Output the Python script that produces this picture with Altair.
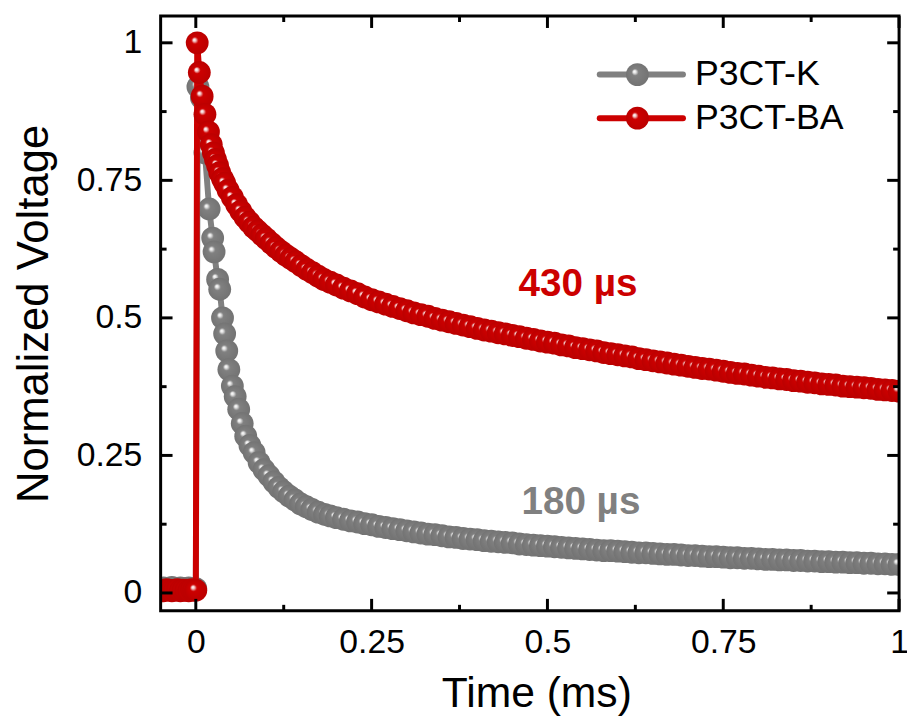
import altair as alt
import pandas as pd

# ---------------- data ----------------
SERIES = ["P3CT-K", "P3CT-BA"]
ANNOTATIONS = ["430 µs", "180 µs"]

PRE_X = [-0.050, -0.046, -0.042, -0.038, -0.034, -0.030, -0.026, -0.022, -0.018,
         -0.014, -0.010, -0.006, -0.003, 0.000]
GRAY_PRE = [0.008, 0.009, 0.007, 0.008, 0.010, 0.008, 0.007, 0.009, 0.008,
            0.008, 0.009, 0.007, 0.008, 0.008]
RED_PRE = [0.005, 0.004, 0.006, 0.005, 0.004, 0.005, 0.006, 0.004, 0.005,
           0.005, 0.004, 0.006, 0.005, 0.005]

GRAY_EARLY_X = [0.003, 0.008, 0.013, 0.019, 0.024, 0.026, 0.031, 0.034, 0.038, 0.041,
                0.044, 0.047, 0.052, 0.056, 0.061, 0.066, 0.071, 0.077, 0.083, 0.090,
                0.097, 0.104, 0.111, 0.118, 0.125, 0.133, 0.141, 0.149, 0.157, 0.165,
                0.174, 0.183, 0.191]
GRAY_EARLY_Y = [0.920, 0.900, 0.800, 0.698, 0.645, 0.620, 0.570, 0.552, 0.500, 0.471,
                0.440, 0.406, 0.376, 0.357, 0.334, 0.308, 0.285, 0.268, 0.255, 0.237,
                0.224, 0.213, 0.202, 0.192, 0.184, 0.176, 0.169, 0.162, 0.157, 0.152,
                0.147, 0.143, 0.140]

RED_EARLY_X = [0.002, 0.005, 0.009, 0.013, 0.018, 0.022, 0.025, 0.028, 0.031, 0.034,
               0.038, 0.041, 0.046, 0.052, 0.058, 0.064, 0.070, 0.076, 0.082, 0.088,
               0.094, 0.100, 0.107, 0.114, 0.121, 0.128, 0.135, 0.142, 0.150, 0.158,
               0.166, 0.174, 0.182, 0.191]
RED_EARLY_Y = [1.000, 0.946, 0.903, 0.870, 0.838, 0.815, 0.800, 0.788, 0.777, 0.764,
               0.753, 0.745, 0.732, 0.719, 0.706, 0.694, 0.683, 0.674, 0.665, 0.658,
               0.651, 0.644, 0.636, 0.628, 0.621, 0.614, 0.608, 0.602, 0.595, 0.588,
               0.582, 0.576, 0.570, 0.565]

TAIL_X = [0.20, 0.21, 0.22, 0.23, 0.24, 0.25, 0.26, 0.27, 0.28, 0.29,
          0.30, 0.31, 0.32, 0.33, 0.34, 0.35, 0.36, 0.37, 0.38, 0.39,
          0.40, 0.41, 0.42, 0.43, 0.44, 0.45, 0.46, 0.47, 0.48, 0.49,
          0.50, 0.51, 0.52, 0.53, 0.54, 0.55, 0.56, 0.57, 0.58, 0.59,
          0.60, 0.61, 0.62, 0.63, 0.64, 0.65, 0.66, 0.67, 0.68, 0.69,
          0.70, 0.71, 0.72, 0.73, 0.74, 0.75, 0.76, 0.77, 0.78, 0.79,
          0.80, 0.81, 0.82, 0.83, 0.84, 0.85, 0.86, 0.87, 0.88, 0.89,
          0.90, 0.91, 0.92, 0.93, 0.94, 0.95, 0.96, 0.97, 0.98, 0.99, 1.00]
RED_TAIL = [0.560, 0.554, 0.549, 0.544, 0.538, 0.533, 0.529, 0.525, 0.521, 0.517,
            0.513, 0.509, 0.506, 0.503, 0.499, 0.496, 0.493, 0.490, 0.487, 0.484,
            0.481, 0.478, 0.476, 0.473, 0.471, 0.468, 0.466, 0.463, 0.461, 0.458,
            0.456, 0.454, 0.451, 0.449, 0.446, 0.444, 0.442, 0.440, 0.437, 0.435,
            0.433, 0.431, 0.429, 0.426, 0.424, 0.422, 0.420, 0.418, 0.416, 0.414,
            0.412, 0.410, 0.408, 0.407, 0.405, 0.403, 0.401, 0.399, 0.398, 0.396,
            0.394, 0.392, 0.391, 0.389, 0.388, 0.386, 0.385, 0.383, 0.382, 0.380,
            0.379, 0.378, 0.376, 0.375, 0.374, 0.373, 0.372, 0.370, 0.369, 0.368, 0.367]
GRAY_TAIL = [0.137, 0.134, 0.131, 0.129, 0.126, 0.124, 0.121, 0.119, 0.117, 0.115,
             0.113, 0.111, 0.109, 0.107, 0.106, 0.104, 0.102, 0.101, 0.099, 0.098,
             0.097, 0.095, 0.094, 0.093, 0.092, 0.091, 0.089, 0.088, 0.087, 0.086,
             0.085, 0.084, 0.083, 0.082, 0.081, 0.080, 0.079, 0.078, 0.077, 0.077,
             0.076, 0.075, 0.074, 0.073, 0.073, 0.072, 0.071, 0.070, 0.070, 0.069,
             0.068, 0.068, 0.067, 0.066, 0.066, 0.065, 0.064, 0.064, 0.063, 0.063,
             0.062, 0.061, 0.061, 0.060, 0.060, 0.059, 0.059, 0.058, 0.058, 0.057,
             0.057, 0.056, 0.056, 0.055, 0.055, 0.054, 0.054, 0.053, 0.053, 0.052, 0.052]

X_MAJOR = [0, 0.25, 0.5, 0.75, 1]
X_MINOR = [0.125, 0.375, 0.625, 0.875]
Y_MAJOR = [0, 0.25, 0.5, 0.75, 1]
Y_MINOR = [0.125, 0.375, 0.625, 0.875]

# ---------------- styling ----------------
W, H = 745, 600
FONT = "Liberation Sans"
GRAY = "#808080"
RED = "#cc0000"
BALL = 530


def ball(base, dark, light):
    return {
        "gradient": "radial",
        "x1": 0.36, "y1": 0.36, "r1": 0,
        "x2": 0.5, "y2": 0.5, "r2": 0.5,
        "stops": [
            {"offset": 0.0, "color": "#ffffff"},
            {"offset": 0.12, "color": light},
            {"offset": 0.30, "color": base},
            {"offset": 1.0, "color": dark},
        ],
    }


GRAY_BALL = ball(GRAY, "#737373", "#e8e8e8")
RED_BALL = ball(RED, "#bb0000", "#f4d4d4")

gray_df = pd.DataFrame({"t": PRE_X + GRAY_EARLY_X + TAIL_X,
                        "v": GRAY_PRE + GRAY_EARLY_Y + GRAY_TAIL})
red_df = pd.DataFrame({"t": PRE_X + RED_EARLY_X + TAIL_X,
                       "v": RED_PRE + RED_EARLY_Y + RED_TAIL})

xscale = alt.Scale(domain=[-0.05, 1.0], nice=False, zero=False)
yscale = alt.Scale(domain=[-0.0324, 1.0486], nice=False, zero=False)

xaxis = alt.Axis(values=X_MAJOR, format=".2~f", ticks=False, domain=False, grid=False,
                 labelFont=FONT, labelFontSize=34, labelColor="black", labelPadding=15,
                 titleFont=FONT, titleFontSize=43, titleFontWeight="normal",
                 titleColor="black", titlePadding=14, labelFlush=False, titleX=379)
yaxis = alt.Axis(values=Y_MAJOR, format=".2~f", ticks=False, domain=False, grid=False,
                 labelFont=FONT, labelFontSize=34, labelColor="black", labelPadding=19,
                 titleFont=FONT, titleFontSize=44, titleFontWeight="normal",
                 titleColor="black", titlePadding=20, labelFlush=False)


def X(field):
    return alt.X(f"{field}:Q", scale=xscale, axis=xaxis, title="Time (ms)")


def Y(field):
    return alt.Y(f"{field}:Q", scale=yscale, axis=yaxis, title="Normalized Voltage")


def series_layers(df, color, fill):
    line = alt.Chart(df).mark_line(color=color, strokeWidth=6, clip=True).encode(
        x=X("t"), y=Y("v"))
    pts = alt.Chart(df).mark_point(shape="circle", filled=True, size=BALL, opacity=1,
                                   fill=fill, strokeWidth=0,
                                   clip=True).encode(x=X("t"), y=Y("v"))
    return [line, pts]


# ticks (inward, on all four sides)
def xticks(vals, length):
    d = pd.DataFrame({"val": vals})
    b = alt.Chart(d).mark_rule(color="black", strokeWidth=3).encode(
        x=X("val"), y=alt.value(H), y2=alt.value(H - length))
    t = alt.Chart(d).mark_rule(color="black", strokeWidth=3).encode(
        x=X("val"), y=alt.value(0), y2=alt.value(length))
    return [b, t]


def yticks(vals, length):
    d = pd.DataFrame({"val": vals})
    l = alt.Chart(d).mark_rule(color="black", strokeWidth=3).encode(
        y=Y("val"), x=alt.value(0), x2=alt.value(length))
    r = alt.Chart(d).mark_rule(color="black", strokeWidth=3).encode(
        y=Y("val"), x=alt.value(W), x2=alt.value(W - length))
    return [l, r]


one = pd.DataFrame({"k": [0]})
frame = alt.Chart(one).mark_rect(filled=False, stroke="black", strokeWidth=3).encode(
    x=alt.value(0), x2=alt.value(W), y=alt.value(0), y2=alt.value(H))


def legend_entry(name, color, fill, ypos):
    d = pd.DataFrame({"name": [name]})
    ln = alt.Chart(d).mark_rule(color=color, strokeWidth=6, strokeCap="round").encode(
        x=alt.value(443), x2=alt.value(527), y=alt.value(ypos))
    pt = alt.Chart(d).mark_point(shape="circle", filled=True, size=BALL, opacity=1,
                                 fill=fill, strokeWidth=0).encode(
        x=alt.value(481), y=alt.value(ypos))
    tx = alt.Chart(d).mark_text(align="left", baseline="middle", font=FONT, fontSize=36,
                                color="black").encode(
        x=alt.value(539), y=alt.value(ypos), text="name:N")
    return [ln, pt, tx]


def annotation(txt, color, xpos, ypos):
    d = pd.DataFrame({"label": [txt]})
    return alt.Chart(d).mark_text(align="center", baseline="alphabetic", font=FONT,
                                  fontSize=39, fontWeight="bold", color=color).encode(
        x=alt.value(xpos), y=alt.value(ypos), text="label:N")


layers = []
layers += series_layers(gray_df, GRAY, GRAY_BALL)
layers += series_layers(red_df, RED, RED_BALL)
layers += xticks(X_MAJOR, 12) + xticks(X_MINOR, 6)
layers += yticks(Y_MAJOR, 12) + yticks(Y_MINOR, 6)
layers += [frame]
layers += legend_entry(SERIES[0], GRAY, GRAY_BALL, 59)
layers += legend_entry(SERIES[1], RED, RED_BALL, 103)
layers += [annotation(ANNOTATIONS[0], RED, 421, 282),
           annotation(ANNOTATIONS[1], GRAY, 424, 502)]

chart = alt.layer(*layers).properties(
    width=W, height=H,
    autosize=alt.AutoSizeParams(type="none"),
    padding={"left": 154, "top": 5, "right": 8, "bottom": 103},
).configure_view(stroke=None).configure(background="white")

chart.save("out.html", embed_options={"renderer": "svg", "actions": False})
